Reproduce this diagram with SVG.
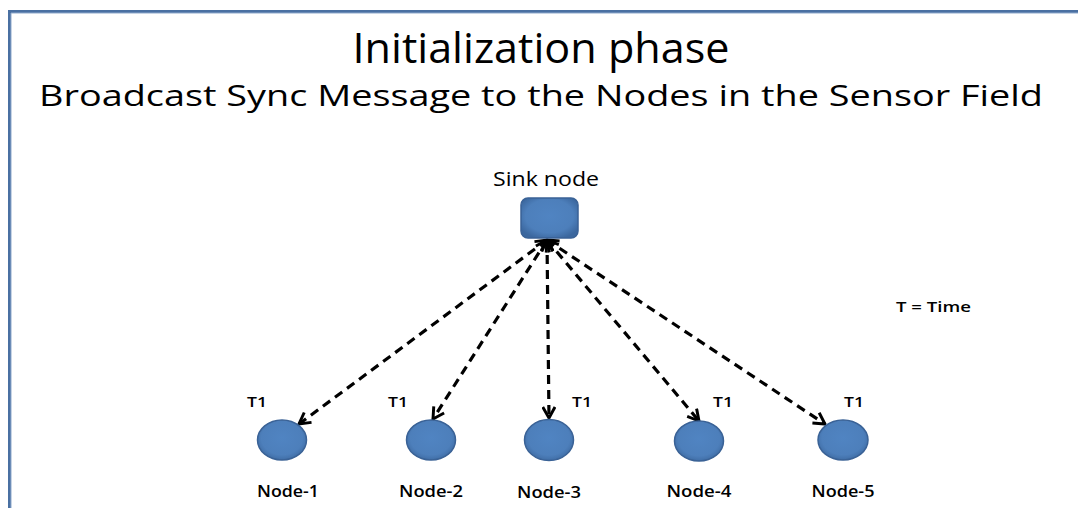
<svg xmlns="http://www.w3.org/2000/svg" width="1078" height="508" viewBox="0 0 1078 508">
  <style>
    .title { font-family: "Open Sans", "Liberation Sans", sans-serif; fill: #000; }
    .lbl { font-family: "Open Sans", "Liberation Sans", sans-serif; font-weight: 600; fill: #000; }
    .node { stroke: #3a6296; stroke-width: 1.5; }
    .link { fill: none; stroke: #000; stroke-width: 3.2; stroke-dasharray: 9 6; marker-start: url(#head); marker-end: url(#head); }
  </style>
  <defs>
    <radialGradient id="blueFill" cx="50%" cy="45%" r="60%">
      <stop offset="0" stop-color="#5084c2"/>
      <stop offset="0.7" stop-color="#4d7fbb"/>
      <stop offset="1" stop-color="#3b679e"/>
    </radialGradient>
    <marker id="head" viewBox="0 0 12 12" refX="11" refY="6" markerWidth="4.6" markerHeight="4.6" orient="auto-start-reverse" markerUnits="strokeWidth">
      <path d="M2,1 L11,6 L2,11" fill="none" stroke="#000" stroke-width="2.4"/>
    </marker>
  </defs>

  <rect width="1078" height="508" fill="#fff"/>

  <!-- slide frame -->
  <g id="frame">
    <line x1="8" y1="11.5" x2="1078" y2="11.5" stroke="#4a70a2" stroke-width="3"/>
    <line x1="9.5" y1="10" x2="9.5" y2="508" stroke="#4a70a2" stroke-width="3"/>
    <line x1="11" y1="13" x2="1078" y2="13" stroke="#8fa9cc" stroke-width="1"/>
    <line x1="11" y1="13" x2="11" y2="508" stroke="#8fa9cc" stroke-width="1"/>
  </g>

  <!-- headings -->
  <text class="title" x="541" y="63" font-size="42" text-anchor="middle" textLength="377" lengthAdjust="spacingAndGlyphs">Initialization phase</text>
  <text class="title" x="541" y="106" font-size="30" text-anchor="middle" textLength="1004" lengthAdjust="spacingAndGlyphs">Broadcast Sync Message to the Nodes in the Sensor Field</text>

  <!-- broadcast links -->
  <g id="connectors">
    <line class="link" x1="547" y1="240" x2="299" y2="424"/>
    <line class="link" x1="547" y1="240" x2="433" y2="419"/>
    <line class="link" x1="547" y1="240" x2="549" y2="418"/>
    <line class="link" x1="547" y1="240" x2="699" y2="421"/>
    <line class="link" x1="547" y1="240" x2="825" y2="424"/>
  </g>

  <g id="sink">
    <text class="title" x="546" y="186" font-size="20" text-anchor="middle" textLength="106" lengthAdjust="spacingAndGlyphs">Sink node</text>
    <rect class="node" x="521" y="198" width="57" height="40" rx="7" fill="url(#blueFill)"/>
  </g>

  <g id="node1">
    <text class="lbl" x="257" y="407" font-size="14.5" text-anchor="middle" textLength="20" lengthAdjust="spacingAndGlyphs">T1</text>
    <ellipse class="node" cx="282" cy="440" rx="24.5" ry="20" fill="url(#blueFill)"/>
    <text class="lbl" x="288" y="497" font-size="16.5" text-anchor="middle" textLength="62" lengthAdjust="spacingAndGlyphs">Node-1</text>
  </g>
  <g id="node2">
    <text class="lbl" x="398" y="407" font-size="14.5" text-anchor="middle" textLength="20" lengthAdjust="spacingAndGlyphs">T1</text>
    <ellipse class="node" cx="431" cy="440" rx="24.5" ry="20" fill="url(#blueFill)"/>
    <text class="lbl" x="431" y="497" font-size="16.5" text-anchor="middle" textLength="64" lengthAdjust="spacingAndGlyphs">Node-2</text>
  </g>
  <g id="node3">
    <text class="lbl" x="582" y="407" font-size="14.5" text-anchor="middle" textLength="20" lengthAdjust="spacingAndGlyphs">T1</text>
    <ellipse class="node" cx="549" cy="440" rx="24.5" ry="20.5" fill="url(#blueFill)"/>
    <text class="lbl" x="549" y="498" font-size="16.5" text-anchor="middle" textLength="64" lengthAdjust="spacingAndGlyphs">Node-3</text>
  </g>
  <g id="node4">
    <text class="lbl" x="723" y="407" font-size="14.5" text-anchor="middle" textLength="20" lengthAdjust="spacingAndGlyphs">T1</text>
    <ellipse class="node" cx="699" cy="441" rx="24.5" ry="20" fill="url(#blueFill)"/>
    <text class="lbl" x="699" y="497" font-size="16.5" text-anchor="middle" textLength="65" lengthAdjust="spacingAndGlyphs">Node-4</text>
  </g>
  <g id="node5">
    <text class="lbl" x="854" y="407" font-size="14.5" text-anchor="middle" textLength="20" lengthAdjust="spacingAndGlyphs">T1</text>
    <ellipse class="node" cx="843" cy="440" rx="25" ry="20" fill="url(#blueFill)"/>
    <text class="lbl" x="843" y="497" font-size="16.5" text-anchor="middle" textLength="63" lengthAdjust="spacingAndGlyphs">Node-5</text>
  </g>

  <text id="legend" class="lbl" x="896" y="312" font-size="15" font-weight="700" textLength="75" lengthAdjust="spacingAndGlyphs">T = Time</text>
</svg>
